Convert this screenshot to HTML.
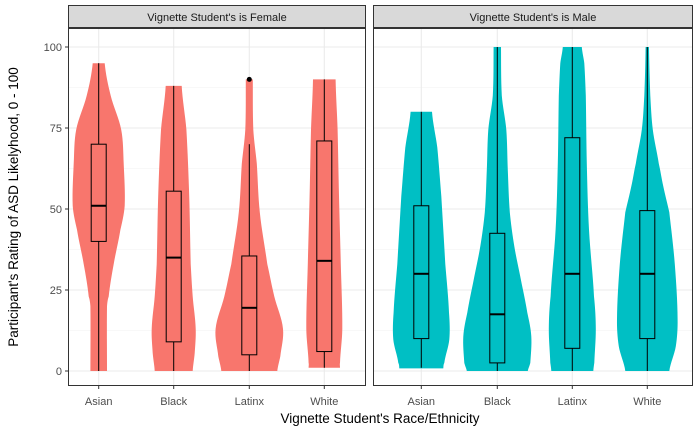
<!DOCTYPE html>
<html><head><meta charset="utf-8"><style>body{margin:0;background:#fff}svg{display:block;font-family:"Liberation Sans",Arial,sans-serif}</style></head>
<body>
<svg id="c" width="700" height="432" viewBox="0 0 700 432" xmlns="http://www.w3.org/2000/svg"></svg>
<script>
const categories = ["Asian","Black","Latinx","White"];
const panels = ["Vignette Student's is Female","Vignette Student's is Male"];
const yTicks = [0,25,50,75,100];
// violin profiles: [value, half-width density]
const femaleViolins = [
 [[0,8.3],[20,8.3],[23,10],[33,15],[43.6,21.7],[51,26],[64,25],[74.5,22.5],[85,12],[95,6]],
 [[0,19],[5.5,21],[13,22],[23,19],[33,17],[54,15.5],[74.5,12.7],[88,8]],
 [[0,28],[4.5,31],[13,33.7],[23,25],[33,18],[49,10.5],[64,7.5],[74.5,4],[90,3.5]],
 [[1,15.7],[2.5,15.7],[13,18],[33,16.5],[54,14.7],[74.5,13.3],[90,11.3]]
];
const maleViolins = [
 [[0.8,22],[2.5,23],[9.7,28],[18,27.7],[33,24],[54,20],[69,16],[80,10.7]],
 [[0,30.5],[2.5,33],[10.7,34],[18,30],[28,23.7],[38.5,17],[49,12.5],[62,10.5],[74.5,9],[85,4.5],[100,3.7]],
 [[0,21],[2.5,22],[13,23.5],[23,21.7],[43.6,16.7],[64,14.5],[85,13.5],[95,12],[100,9.5]],
 [[0,22],[7.6,28.5],[16,30.3],[33,27.5],[49,22],[57,16],[64,11.5],[74.5,5.5],[85,3],[100,1.7]]
];
// box stats: [min, q1, median, q3, max]
const femaleBoxes = [[0,40,51,70,95],[0,9,35,55.5,88],[0,5,19.5,35.5,70],[1,6,34,71,90]];
const maleBoxes = [[1,10,30,51,80],[0,2.5,17.5,42.5,100],[0,7,30,72,100],[0,10,30,49.5,100]];
const femaleOutliers = [[],[],[90],[]];
const maleOutliers = [[],[],[],[]];

const NS="http://www.w3.org/2000/svg";
const svg=document.getElementById('c');
function mk(t,a,p){const e=document.createElementNS(NS,t);for(const k in a)e.setAttribute(k,a[k]);(p||svg).appendChild(e);return e;}
const yTop=28,yBot=386;
const y=v=>371-v*3.24;
const panelX=[[68,366,[98.7,173.7,249.3,324.3]],[373,693,[421.3,497.3,572.3,647.3]]];
const colors=["#F8766D","#00BFC4"];
const allV=[femaleViolins,maleViolins],allB=[femaleBoxes,maleBoxes],allO=[femaleOutliers,maleOutliers];

// smooth a profile by Catmull-Rom interpolation of width along value
function smooth(prof){
  const out=[];
  for(let i=0;i<prof.length-1;i++){
    const p0=prof[Math.max(0,i-1)],p1=prof[i],p2=prof[i+1],p3=prof[Math.min(prof.length-1,i+2)];
    for(let s=0;s<8;s++){
      const t=s/8,t2=t*t,t3=t2*t;
      const f=(a,b,c,d)=>0.5*((2*b)+(-a+c)*t+(2*a-5*b+4*c-d)*t2+(-a+3*b-3*c+d)*t3);
      out.push([p1[0]+(p2[0]-p1[0])*t,Math.max(0.5,f(p0[1],p1[1],p2[1],p3[1]))]);
    }
  }
  out.push(prof[prof.length-1]);
  return out;
}

panelX.forEach((p,pi)=>{
  const [x0,x1,cx]=p;
  const g=mk('g',{});
  
  
  const s=mk('rect',{x:x0+0.5,y:5.5,width:x1-x0-1,height:22,fill:'#D9D9D9',stroke:'#333','stroke-width':1},g);
  
  
  const st=mk('text',{x:(x0+x1)/2,y:21,'text-anchor':'middle','font-size':11,fill:'#1A1A1A'},g);
  st.textContent=panels[pi];
  
  
  for(let i=0;i<yTicks.length-1;i++){
    const m=(yTicks[i]+yTicks[i+1])/2;
    const l=mk('line',{x1:x0,x2:x1,y1:y(m),y2:y(m),stroke:'#F2F2F2','stroke-width':0.6},g);
    
    
  }
  yTicks.forEach(t=>{
    const l=mk('line',{x1:x0,x2:x1,y1:y(t),y2:y(t),stroke:'#EBEBEB','stroke-width':1.1},g);
    
    
  });
  categories.forEach((c,ci)=>{
    const l=mk('line',{x1:cx[ci],x2:cx[ci],y1:yTop,y2:yBot,stroke:'#EBEBEB','stroke-width':1.1},g);
    
    
  });
  categories.forEach((c,ci)=>{
    const X=cx[ci],prof=smooth(allV[pi][ci]);
    let d='';
    prof.forEach((q,i)=>{d+=(i?'L':'M')+(X+q[1]).toFixed(2)+','+y(q[0]).toFixed(2);});
    for(let i=prof.length-1;i>=0;i--){d+='L'+(X-prof[i][1]).toFixed(2)+','+y(prof[i][0]).toFixed(2);}
    const v=mk('path',{d:d+'Z',fill:colors[pi]},g);
    
    
    const b=allB[pi][ci];
    const w1=mk('line',{x1:X,x2:X,y1:y(b[0]),y2:y(b[1]),stroke:'#000','stroke-width':1},g);
    
    
    const w2=mk('line',{x1:X,x2:X,y1:y(b[3]),y2:y(b[4]),stroke:'#000','stroke-width':1},g);
    
    
    const r=mk('rect',{x:X-7.5,y:y(b[3]),width:15,height:y(b[1])-y(b[3]),fill:colors[pi],stroke:'#000','stroke-width':1},g);
    
    
    const md=mk('line',{x1:X-7.5,x2:X+7.5,y1:y(b[2]),y2:y(b[2]),stroke:'#000','stroke-width':2},g);
    
    
    allO[pi][ci].forEach(o=>{
      const pt=mk('circle',{cx:X,cy:y(o),r:2.5,fill:'#000'},g);
      
      
    });
    const tk=mk('line',{x1:X,x2:X,y1:yBot,y2:yBot+3,stroke:'#333','stroke-width':1},g);
    
    
    const tl=mk('text',{x:X,y:405,'text-anchor':'middle','font-size':11,fill:'#4D4D4D'},g);
    tl.textContent=c;
    
    
  });
  const bd=mk('rect',{x:x0+0.5,y:yTop+0.5,width:x1-x0-1,height:yBot-yTop-1,fill:'none',stroke:'#333','stroke-width':1},g);
  
  
});
yTicks.forEach(t=>{
  const tk=mk('line',{x1:65,x2:68,y1:y(t),y2:y(t),stroke:'#333','stroke-width':1});
  
  
  const tl=mk('text',{x:62,y:y(t)+4,'text-anchor':'end','font-size':11,fill:'#4D4D4D'});
  tl.textContent=t;
  
  
});
const yt=mk('text',{x:0,y:0,'text-anchor':'middle','font-size':13.5,fill:'#000',transform:'translate(18,207) rotate(-90)'});
yt.textContent="Participant's Rating of ASD Likelyhood, 0 - 100";


const xt=mk('text',{x:380,y:423,'text-anchor':'middle','font-size':13.5,fill:'#000'});
xt.textContent="Vignette Student's Race/Ethnicity";


</script>
</body></html>
